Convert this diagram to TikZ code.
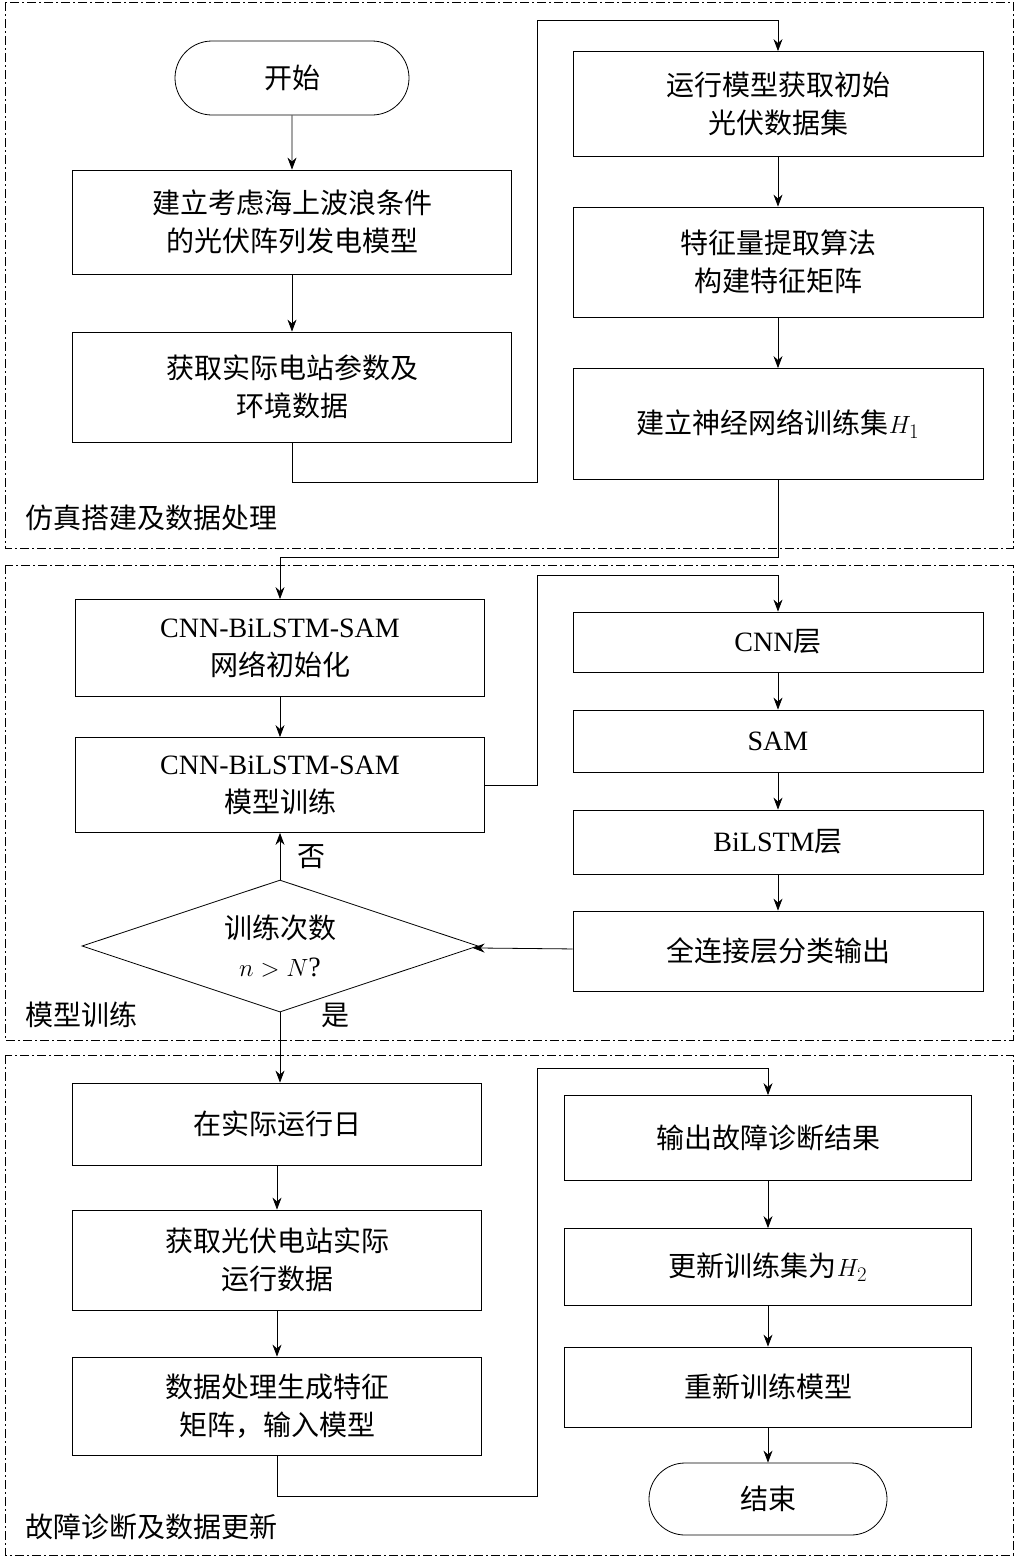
\documentclass[tikz,border=0pt]{standalone}
\usepackage{fontspec}
\setmainfont{Liberation Serif}
\newfontfamily\cjk{Noto Sans CJK SC}
\usetikzlibrary{shapes.geometric,shapes.misc,arrows.meta}
\tikzset{
  box/.style={draw, thick, rectangle, inner sep=0pt, align=center, font=\fontsize{28}{38}\selectfont},
  term/.style={draw, thick, rounded rectangle, inner sep=0pt, font=\fontsize{28}{38}\selectfont\cjk},
  sec/.style={draw, thick, dash pattern=on 9pt off 3pt on 2pt off 3pt},
  lbl/.style={anchor=west, font=\fontsize{28}{34}\selectfont\cjk},
}
\begin{document}
\begin{tikzpicture}[x=1pt, y=-1pt, >={Stealth[length=12pt,width=9pt]}, thick]
    \useasboundingbox (0,0) rectangle (1015,1559);
    % Sections
    \draw[sec] (5,2) rectangle (1013,548);
    \draw[sec] (5,565) rectangle (1013,1040);
    \draw[sec] (5,1055) rectangle (1013,1555);
    \node[lbl] (s1) at (22,518) {仿真搭建及数据处理};
    \node[lbl] (s2) at (22,1015) {模型训练};
    \node[lbl] (s3) at (22,1527) {故障诊断及数据更新};

    % Nodes
    \node (start) [term, minimum width=234pt, minimum height=74pt] at (292,78) {开始};
    \node (a) [box, minimum width=439pt, minimum height=104pt] at (292,222) {\cjk 建立考虑海上波浪条件\\\cjk 的光伏阵列发电模型};
    \node (b) [box, minimum width=439pt, minimum height=110pt] at (292,387) {\cjk 获取实际电站参数及\\\cjk 环境数据};
    \node (r1) [box, minimum width=410pt, minimum height=105pt] at (778,104) {\cjk 运行模型获取初始\\\cjk 光伏数据集};
    \node (r2) [box, minimum width=410pt, minimum height=110pt] at (778,262) {\cjk 特征量提取算法\\\cjk 构建特征矩阵};
    \node (r3) [box, minimum width=410pt, minimum height=111pt] at (778,424) {{\cjk 建立神经网络训练集}$H_1$};

    \node (c1) [box, minimum width=409pt, minimum height=97pt] at (280,648) {CNN-BiLSTM-SAM\\\cjk 网络初始化};
    \node (c2) [box, minimum width=409pt, minimum height=95pt] at (280,785) {CNN-BiLSTM-SAM\\\cjk 模型训练};
    \node (d1) [box, minimum width=410pt, minimum height=60pt] at (778,642) {CNN{\cjk 层}};
    \node (d2) [box, minimum width=410pt, minimum height=62pt] at (778,741) {SAM};
    \node (d3) [box, minimum width=410pt, minimum height=64pt] at (778,842) {BiLSTM{\cjk 层}};
    \node (d4) [box, minimum width=410pt, minimum height=80pt] at (778,951) {\cjk 全连接层分类输出};
    \node (dec) [draw, thick, diamond, aspect=3, minimum width=396pt, minimum height=132pt, inner sep=0pt, align=center, font=\fontsize{28}{38}\selectfont] at (280,946) {\cjk 训练次数\\$n>N$?};

    \node (e1) [box, minimum width=409pt, minimum height=82pt] at (277,1124) {\cjk 在实际运行日};
    \node (e2) [box, minimum width=409pt, minimum height=100pt] at (277,1260) {\cjk 获取光伏电站实际\\\cjk 运行数据};
    \node (e3) [box, minimum width=409pt, minimum height=98pt] at (277,1406) {\cjk 数据处理生成特征\\{\cjk 矩阵，输入模型}};
    \node (f1) [box, minimum width=407pt, minimum height=85pt] at (768,1138) {\cjk 输出故障诊断结果};
    \node (f2) [box, minimum width=407pt, minimum height=77pt] at (768,1267) {{\cjk 更新训练集为}$H_2$};
    \node (f3) [box, minimum width=407pt, minimum height=80pt] at (768,1387) {\cjk 重新训练模型};
    \node (end) [term, minimum width=238pt, minimum height=72pt] at (768,1499) {结束};

    % Arrows
    \draw[->] (start) -- (a);
    \draw[->] (a) -- (b);
    \draw[->] (b.south) -- ++(0,40) -| (537,20) -| (r1.north);
    \draw[->] (r1) -- (r2);
    \draw[->] (r2) -- (r3);
    \draw[->] (r3.south) -- ++(0,77) -| (c1.north);
    \draw[->] (c1) -- (c2);
    \draw[->] (c2.east) -- (537,785) |- (778,575) -- (d1.north);
    \draw[->] (d1) -- (d2);
    \draw[->] (d2) -- (d3);
    \draw[->] (d3) -- (d4);
    \draw[->] (d4) -- (dec);
    \draw[->] (dec) -- (c2) node[pos=0.5, right, xshift=14pt, font=\fontsize{28}{34}\selectfont\cjk] {否};
    \draw[->] (dec.south) -- (e1.north -| dec.south) node[pos=0.05, right, xshift=38pt, font=\fontsize{28}{34}\selectfont\cjk] {是};
    \draw[->] (e1) -- (e2);
    \draw[->] (e2) -- (e3);
    \draw[->] (e3.south) -- ++(0,41) -| (537,1068) -| (f1.north);
    \draw[->] (f1) -- (f2);
    \draw[->] (f2) -- (f3);
    \draw[->] (f3) -- (end);
\end{tikzpicture}
\end{document}
